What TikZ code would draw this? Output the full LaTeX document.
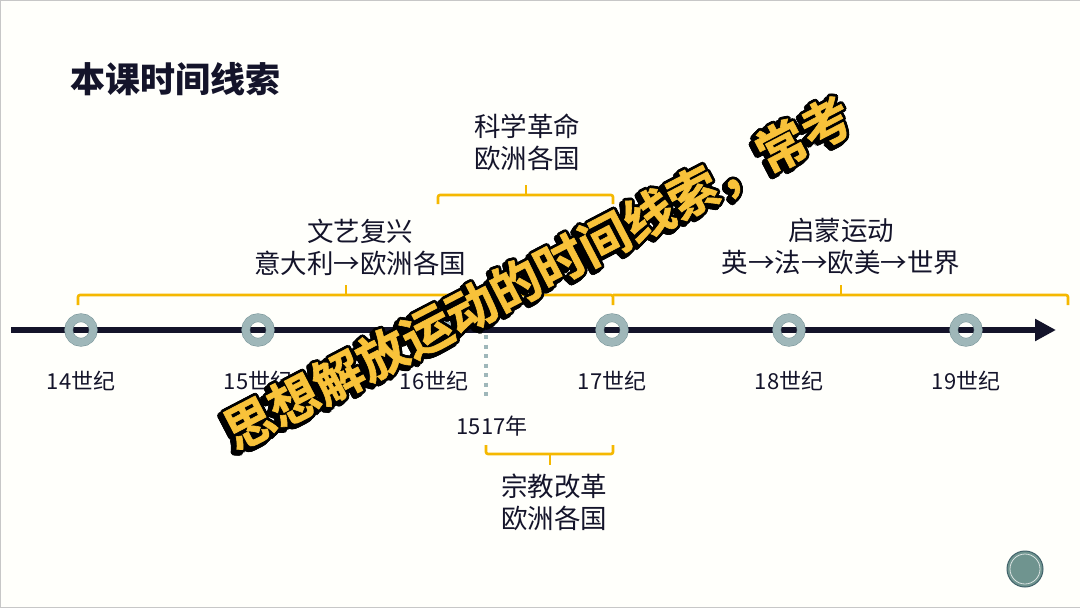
\documentclass[tikz,border=0pt]{standalone}
\usepackage{fontspec}
\setmainfont{Noto Sans CJK SC}
\newfontfamily\slogfont{Noto Sans CJK SC}[UprightFont=* Bold, FakeBold=1.2]
\usetikzlibrary{arrows.meta,calc}
\definecolor{ink}{HTML}{14142A}
\definecolor{paper}{HTML}{FFFFFB}
\definecolor{gold}{HTML}{F5B800}
\definecolor{sloganyellow}{HTML}{F8C23A}
\definecolor{ringfill}{HTML}{9FB7B9}
\definecolor{ringedge}{HTML}{7D989C}
\definecolor{btnfill}{HTML}{6F948F}
\definecolor{btnedge}{HTML}{41626A}

\begin{document}
\begin{tikzpicture}[x=1pt,y=-1pt,
  every node/.style={text=ink, inner sep=0pt},
  ring/.style={circle, minimum size=24.6pt, draw=ringedge, line width=0.6pt, double=ringfill, double distance=7.5pt},
  century/.style={font=\fontsize{22}{24}\selectfont},
  event/.style={align=center, font=\fontsize{26.5}{32}\selectfont},
  brace/.style={draw=gold, line width=2.6pt, rounded corners=2pt},
  slogan/.style={rotate=27.5, font=\fontsize{50}{52}\selectfont\slogfont}]
\useasboundingbox (0,0) rectangle (1080,608);
\fill[paper] (0,0) rectangle (1080,608);
\draw[black!22, line width=1pt] (1080,0.5) -- (0.5,0.5) -- (0.5,607.5) -- (1080,607.5);

\node[anchor=west, font=\fontsize{35}{38}\selectfont\bfseries] (title) at (70,79) {本课时间线索};

\coordinate (a0) at (11,330);
\coordinate (a1) at (1056,330);
\draw[ink, line width=6.5pt, -{Triangle[length=21pt,width=21pt]}] (a0) -- (a1);

\node[ring] (r14) at (81,330) {};
\node[ring] (r15) at (258,330) {};
\node[ring] (r16) at (435,330) {};
\node[ring] (r17) at (612,330) {};
\node[ring] (r18) at (789,330) {};
\node[ring] (r19) at (966,330) {};

\node[century] (c14) at (81,381) {14世纪};
\node[century] (c15) at (258,381) {15世纪};
\node[century] (c16) at (434,381) {16世纪};
\node[century] (c17) at (612,381) {17世纪};
\node[century] (c18) at (789,381) {18世纪};
\node[century] (c19) at (966,381) {19世纪};

\coordinate (d0) at (486,335);
\coordinate (d1) at (486,398);
\draw[ringfill, line width=4pt, dash pattern=on 4pt off 5.5pt] (d0) -- (d1);
\node[century] (y1517) at (492,426) {1517年};

\draw[brace] (78,305) -- (78,295) -- (613,295) -- (613,305);
\draw[brace] (346,295) -- (346,285);
\draw[brace] (613,295) -- (1068,295) -- (1068,305);
\draw[brace] (841,295) -- (841,285);
\draw[brace] (438,204) -- (438,195) -- (613,195) -- (613,204);
\draw[brace] (526,195) -- (526,185);
\draw[brace] (486,445) -- (486,454) -- (613,454) -- (613,445);
\draw[brace] (550,454) -- (550,465);

\node[event] (renais) at (360,247) {文艺复兴\\意大利→欧洲各国};
\node[event] (science) at (527,142) {科学革命\\欧洲各国};
\node[event] (enlight) at (841,246) {启蒙运动\\英→法→欧美→世界};
\node[event] (reform) at (554,502) {宗教改革\\欧洲各国};

\coordinate (s) at (538,274);
\foreach \a in {0,30,...,330} {
  \node[slogan, text=black] (sh\a) at ($(s)+(-3,3)+(\a:2.8pt)$) {思想解放运动的时间线索，常考};
  \node[slogan, text=black] (so\a) at ($(s)+(\a:2.8pt)$) {思想解放运动的时间线索，常考};
}
\node[slogan, text=sloganyellow] (slogan) at (s) {思想解放运动的时间线索，常考};

\node[circle, minimum size=36pt, fill=btnfill, draw=btnedge, line width=1pt] (btn) at (1025,569) {};
\draw[white!75!btnfill, line width=0.8pt] (btn.center) circle (15pt);
\end{tikzpicture}
\end{document}
